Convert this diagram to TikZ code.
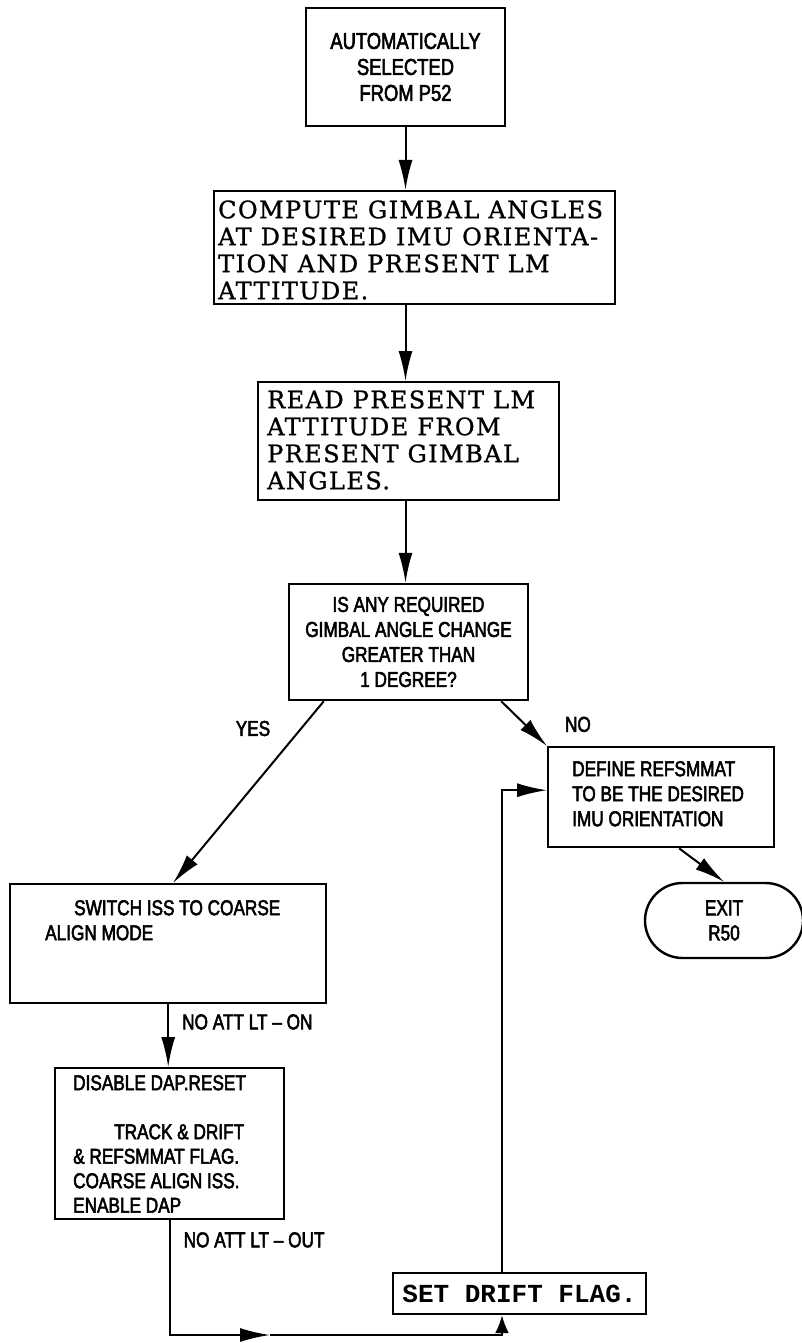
\documentclass[tikz,border=0pt]{standalone}
\usepackage{fontspec}
\usepackage{tikz}
\usetikzlibrary{arrows.meta,positioning}
\newfontfamily\capsfont[FakeStretch=0.8, FakeBold=2.5]{Liberation Sans}
\newfontfamily\typedfont[LetterSpace=6, FakeBold=1]{DejaVu Serif}
\newfontfamily\flagfont{Liberation Mono}

\begin{document}
\begin{tikzpicture}[x=1pt, y=-1pt,
    box/.style={draw, line width=2.4pt, inner sep=0pt},
    caps/.style={font=\capsfont\fontsize{21.5}{25}\selectfont},
    typed/.style={font=\typedfont\fontsize{24}{27}\selectfont},
    flow/.style={-{Latex[length=30pt, width=14pt]}, line width=2pt},
    shortflow/.style={-{Latex[length=18pt, width=14pt]}, line width=2pt},
    tag/.style={caps, inner sep=0pt},
]
    \useasboundingbox (0,0) rectangle (801,1343);

    % Entry and the gimbal steps down the middle
    \node[box, font=\capsfont\fontsize{23}{26}\selectfont, align=center,
        minimum width=199pt, minimum height=118pt] (start) at (405.5,67)
        {AUTOMATICALLY\\SELECTED\\FROM P52};
    \node[box, typed, anchor=north west, inner xsep=4pt, text width=393pt, align=flush left,
        text height=27pt, text depth=86pt] (compute) at (213,190)
        {COMPUTE GIMBAL ANGLES\\AT DESIRED IMU ORIENTA-\\TION AND PRESENT LM\\ATTITUDE.};
    \node[box, typed, anchor=north west, inner xsep=9pt, text width=283pt, align=flush left,
        text height=26pt, text depth=92pt] (read) at (257,381)
        {READ PRESENT LM\\ATTITUDE FROM\\PRESENT GIMBAL\\ANGLES.};
    \node[box, caps, align=center, minimum width=239pt, minimum height=116pt] (decide) at (408.5,642)
        {IS ANY REQUIRED\\GIMBAL ANGLE CHANGE\\GREATER THAN\\1 DEGREE?};

    % NO branch
    \node[box, caps, anchor=north west, inner xsep=24pt, text width=178pt, align=flush left,
        text height=29pt, text depth=71pt] (define) at (547,746)
        {DEFINE REFSMMAT\\TO BE THE DESIRED\\IMU ORIENTATION};
    \node[draw, line width=2.4pt, caps, rounded corners=37.5pt, align=center,
        minimum width=158pt, minimum height=75pt] (exit) at (724,920.5) {EXIT\\R50};

    % YES branch
    \node[box, caps, anchor=north west, inner xsep=35pt, text width=246pt, align=flush left,
        text height=31pt, text depth=88pt] (switch) at (9,883)
        {\hspace*{29pt}SWITCH ISS TO COARSE\\ALIGN MODE};
    \node[box, font=\capsfont\fontsize{21.5}{24.5}\selectfont, anchor=north west, inner xsep=18pt,
        text width=193pt, align=flush left, text height=22pt, text depth=129pt] (disable) at (54,1067)
        {DISABLE DAP.RESET\\[24.5pt]\hspace*{41pt}TRACK \& DRIFT\\\& REFSMMAT FLAG.\\COARSE ALIGN ISS.\\ENABLE DAP};
    \node[box, font=\flagfont\bfseries\fontsize{26}{30}\selectfont,
        minimum width=253pt, minimum height=41pt] (setdrift) at (519.5,1293.5) {SET DRIFT FLAG.};

    \coordinate (floor) at (0,1335);
    \coordinate (midtip) at (270,1335);
    \coordinate (uplink) at ([xshift=-17.5pt]setdrift.south);

    % connectors
    \draw[flow] (start.south) -- (start.south |- compute.north);
    \draw[flow] (start.south |- compute.south) -- (start.south |- read.north);
    \draw[flow] (start.south |- read.south) -- (start.south |- decide.north);
    \draw[flow] ([xshift=36pt]decide.south west) -- ([xshift=164pt]switch.north west)
        node[tag, pos=0.15, left=30pt] {YES};
    \draw[flow] ([xshift=-28pt]decide.south east) -- (define.north west)
        node[tag, above right=13pt and 17pt] {NO};
    \draw[flow] ([xshift=18pt]define.south) -- (exit.north);
    \draw[flow] (switch.south) -- (switch.south |- disable.north)
        node[tag, pos=0.28, right=13pt] {NO ATT LT \textendash{} ON};
    \draw[flow] (disable.south) |- (midtip)
        node[tag, pos=0.085, right=13pt] {NO ATT LT \textendash{} OUT};
    \draw[shortflow] (midtip) -- (uplink |- floor) -- (uplink);
    \draw[flow] ([xshift=-17.5pt]setdrift.north) |- ([yshift=7pt]define.west);
\end{tikzpicture}
\end{document}
